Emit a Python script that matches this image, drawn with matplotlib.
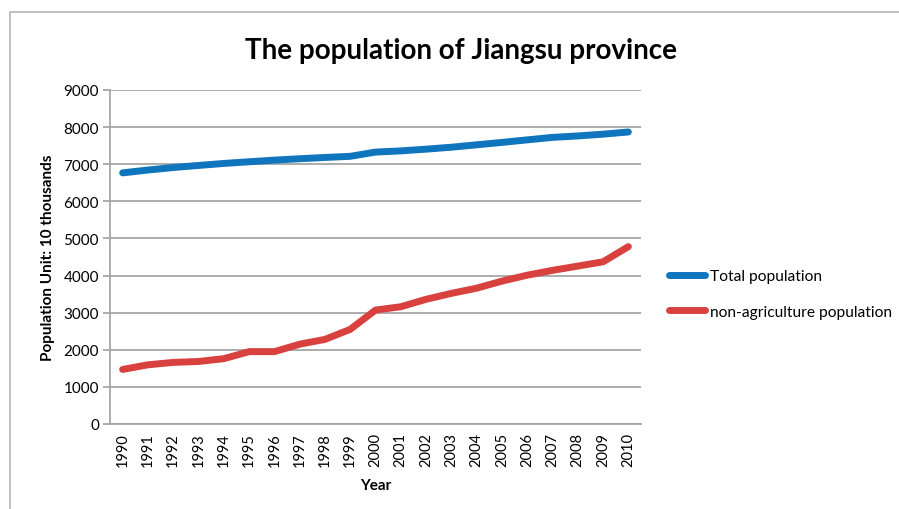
import matplotlib.pyplot as plt
from matplotlib.patches import Rectangle

plt.rcParams['font.family'] = ['Lato', 'DejaVu Sans']

years = [str(y) for y in range(1990, 2011)]
total_pop = [6767, 6844, 6911, 6967, 7021, 7066, 7110, 7148, 7182, 7213,
             7327, 7359, 7406, 7458, 7523, 7588, 7656, 7723, 7762, 7810, 7869]
nonagri_pop = [1470, 1595, 1660, 1685, 1760, 1950, 1950, 2150, 2280, 2550,
               3070, 3160, 3360, 3520, 3660, 3850, 4010, 4140, 4255, 4370, 4780]

blue = '#0f75bd'
red = '#d9413f'
grid_c = '#a6a6a6'

fig = plt.figure(figsize=(8.99, 5.10), dpi=100)
ax = fig.add_axes([110 / 899, 85 / 510, 531 / 899, 334 / 510])

x = list(range(len(years)))
ax.plot(x, total_pop, color=blue, lw=5, solid_capstyle='round', label='Total population')
ax.plot(x, nonagri_pop, color=red, lw=5, solid_capstyle='round', label='non-agriculture population')

ax.set_xlim(-0.5, len(years) - 0.5)
ax.set_ylim(0, 9000)
ax.set_yticks(range(0, 9001, 1000))
ax.set_xticks(x)
ax.set_xticklabels(years, rotation=90)
ax.yaxis.grid(True, color=grid_c, lw=1.3)
ax.set_axisbelow(True)
for s in ['top', 'right']:
    ax.spines[s].set_visible(False)
for s in ['left', 'bottom']:
    ax.spines[s].set_color(grid_c)
    ax.spines[s].set_linewidth(1.3)
ax.tick_params(axis='y', length=5, color=grid_c, width=1.3, labelsize=11, pad=3)
ax.tick_params(axis='x', length=0, labelsize=10.5, pad=6)

ax.set_xlabel('Year', fontsize=11, fontweight='bold', labelpad=8)
ax.set_ylabel('Population Unit: 10 thousands', fontsize=11, fontweight='bold', labelpad=6)
fig.text(0.513, 0.9, 'The population of Jiangsu province', ha='center', va='center',
         fontsize=20, fontweight='bold')

ax.legend(loc='center left', bbox_to_anchor=(655 / 899, 1 - 295 / 510),
          bbox_transform=fig.transFigure, frameon=False, fontsize=11.2,
          handlelength=2.3, handletextpad=0.35, labelspacing=1.35)

# outer chart border
fig.patches.append(Rectangle((10 / 899, -0.1), 1.2, 1.1 - 13 / 510, transform=fig.transFigure,
                             fill=False, edgecolor='#b3b3b3', lw=1.2))

fig.savefig('out.png', dpi=100)
